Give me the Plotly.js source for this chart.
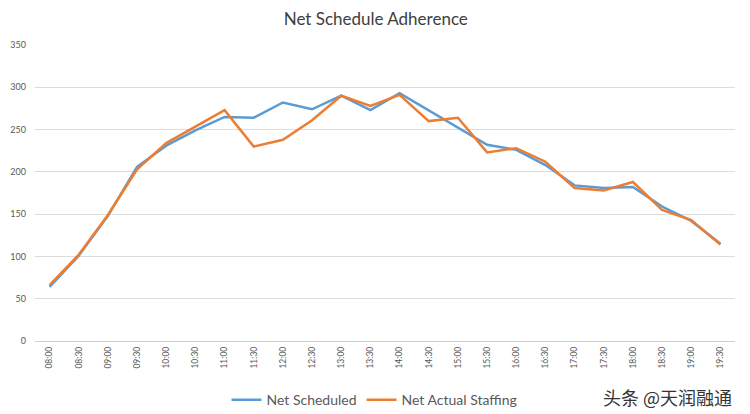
<!DOCTYPE html>
<html>
<head>
<meta charset="utf-8">
<script src="https://cdn.plot.ly/plotly-3.0.1.min.js"></script>
<style>html,body{margin:0;padding:0;background:#fff;}#chart{width:750px;height:414px;}</style>
</head>
<body>
<div id="chart"></div>
<script>
const times = ["08:00","08:30","09:00","09:30","10:00","10:30","11:00","11:30","12:00","12:30","13:00","13:30","14:00","14:30","15:00","15:30","16:00","16:30","17:00","17:30","18:00","18:30","19:00","19:30"];
const netScheduled = [64, 101, 148, 206, 231, 249, 265, 264, 282, 274, 290, 273, 293, 273, 252, 232, 226, 208, 184, 181, 182, 159, 142, 115];
const netActualStaffing = [66, 102, 149, 203, 234, 253, 273, 230, 238, 261, 290, 278, 291, 260, 264, 223, 228, 212, 181, 178, 188, 155, 143, 114];
const yTicks = [0, 50, 100, 150, 200, 250, 300, 350];

const font = "Lato, 'Open Sans', 'Liberation Sans', sans-serif";

const traces = [
  {x: times, y: netScheduled, type: 'scatter', mode: 'lines', name: 'Net Scheduled',
   line: {color: '#5b9bd5', width: 2.5}},
  {x: times, y: netActualStaffing, type: 'scatter', mode: 'lines', name: 'Net Actual Staffing',
   line: {color: '#ed7d31', width: 2.5}}
];

const layout = {
  width: 750, height: 414,
  margin: {l: 35, r: 15, t: 45, b: 73, autoexpand: false},
  paper_bgcolor: '#fff', plot_bgcolor: '#fff',
  font: {family: font, color: '#595959'},
  title: {text: 'Net Schedule Adherence', x: 0.501, xanchor: 'center', y: 0.955, yanchor: 'middle',
          automargin: false, font: {family: font, size: 17, color: '#404040'}},
  xaxis: {type: 'category', range: [-0.5, times.length - 0.5], tickangle: -90, automargin: false,
          tickfont: {size: 8.5, color: '#595959'}, ticklabelstandoff: 3,
          showgrid: false, showline: false, zeroline: false, ticks: '', ticklen: 0},
  yaxis: {range: [0, 350], tickvals: yTicks, ticktext: yTicks.map(String), automargin: false,
          tickfont: {size: 9, color: '#595959'}, gridcolor: '#dcdcdc', gridwidth: 1,
          ticklabelstandoff: 8,
          zeroline: true, zerolinecolor: '#d0d0d0', zerolinewidth: 1, showline: false, ticks: ''},
  showlegend: true,
  legend: {orientation: 'h', x: 0.485, xanchor: 'center', y: -0.2, yanchor: 'middle',
           font: {size: 14, color: '#595959', family: font}, itemwidth: 30, traceorder: 'normal'},
  annotations: [
    {text: '头条 @天润融通', xref: 'paper', yref: 'paper', x: 0.904, y: -0.19,
     xanchor: 'center', yanchor: 'middle', showarrow: false,
     font: {family: "'Noto Sans CJK SC', sans-serif", size: 18, color: '#333333'}}
  ]
};

Plotly.newPlot('chart', traces, layout, {displayModeBar: false, staticPlot: true});
</script>
</body>
</html>
